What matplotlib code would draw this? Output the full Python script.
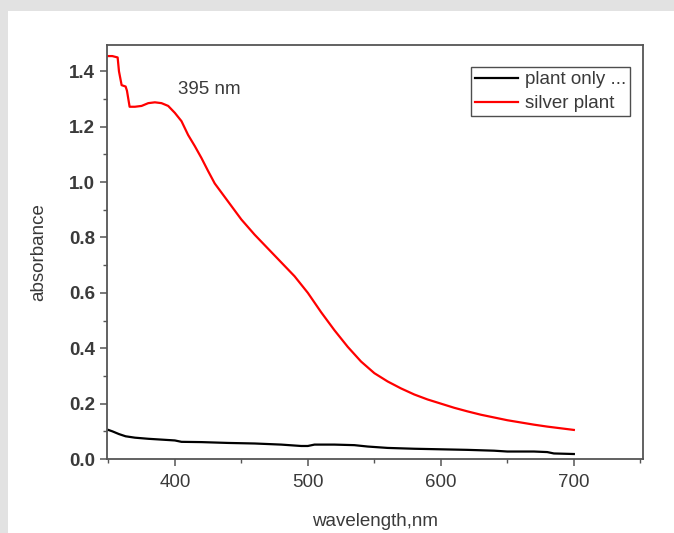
import matplotlib
matplotlib.use("Agg")
import matplotlib.pyplot as plt
from matplotlib.patches import Rectangle
from matplotlib.ticker import MultipleLocator

plant_wl = [350, 353, 358, 363, 370, 380, 390, 400, 405, 420, 440, 460, 480,
            495, 500, 505, 520, 535, 545, 560, 580, 600, 620, 640, 650, 670,
            680, 685, 700]
plant_abs = [0.105, 0.1, 0.09, 0.082, 0.077, 0.073, 0.07, 0.067, 0.062, 0.061,
             0.058, 0.056, 0.052, 0.047, 0.047, 0.052, 0.052, 0.05, 0.045,
             0.04, 0.037, 0.035, 0.033, 0.03, 0.027, 0.027, 0.025, 0.02, 0.018]

silver_wl = [350, 353, 357, 358, 360, 363, 364, 366, 370, 375, 380, 385, 390,
             395, 400, 405, 410, 415, 420, 425, 430, 440, 450, 460, 470, 480,
             490, 500, 510, 520, 530, 540, 550, 560, 570, 580, 590, 600, 610,
             620, 630, 640, 650, 660, 670, 680, 690, 700]
silver_abs = [1.455, 1.455, 1.45, 1.40, 1.35, 1.345, 1.33, 1.272, 1.272,
              1.275, 1.285, 1.288, 1.285, 1.275, 1.25, 1.22, 1.17, 1.13,
              1.087, 1.04, 0.995, 0.93, 0.865, 0.81, 0.76, 0.71, 0.66, 0.60,
              0.53, 0.465, 0.405, 0.352, 0.31, 0.28, 0.255, 0.233, 0.215,
              0.2, 0.185, 0.172, 0.16, 0.15, 0.14, 0.132, 0.124, 0.117, 0.111,
              0.105]

series_labels = ["plant only ...", "silver plant"]
peak_text = "395 nm"

plt.rcParams['font.family'] = ['Liberation Sans', 'DejaVu Sans']
txt = '#3a3a3a'
spine = '#555555'
fs = 13.5

fig = plt.figure(figsize=(6.74, 5.33), dpi=100)
fig.patch.set_facecolor('white')
# grey page border on top and left
fig.patches.append(Rectangle((0, 1 - 11 / 533), 1, 11 / 533, transform=fig.transFigure,
                             facecolor='#e2e2e2', edgecolor='none', zorder=0))
fig.patches.append(Rectangle((0, 0), 8 / 674, 1, transform=fig.transFigure,
                             facecolor='#e2e2e2', edgecolor='none', zorder=0))

ax = fig.add_axes([107 / 674, 74 / 533, 536 / 674, 414 / 533])
ax.plot(plant_wl, plant_abs, color='black', lw=1.6, label=series_labels[0])
ax.plot(silver_wl, silver_abs, color='#ff0000', lw=1.6, label=series_labels[1])

ax.set_xlim(349, 752)
ax.set_ylim(0, 1.495)
ax.xaxis.set_major_locator(MultipleLocator(100))
ax.xaxis.set_minor_locator(MultipleLocator(50))
ax.yaxis.set_major_locator(MultipleLocator(0.2))
ax.yaxis.set_minor_locator(MultipleLocator(0.1))
ax.yaxis.set_major_formatter(plt.FormatStrFormatter('%.1f'))

for s in ax.spines.values():
    s.set_color(spine)
    s.set_linewidth(1.3)
ax.tick_params(which='both', direction='out', colors=spine, labelcolor=txt,
               top=False, right=False)
ax.tick_params(which='major', length=5, width=1.1, labelsize=fs)
ax.tick_params(which='minor', length=3, width=1.0)
ax.tick_params(axis='x', which='major', pad=6)
for lab in ax.get_yticklabels():
    lab.set_fontweight('bold')

ax.set_xlabel('wavelength,nm', fontsize=fs, color=txt, labelpad=16)
ax.set_ylabel('absorbance', fontsize=fs, color=txt, labelpad=16)

ax.text(426, 1.335, peak_text, fontsize=fs, color=txt, ha='center', va='center')

leg = ax.legend(loc='upper left', bbox_to_anchor=(0.679, 0.947), borderaxespad=0,
                fancybox=False, frameon=True, fontsize=fs, borderpad=0.22,
                handlelength=2.3, handletextpad=0.35, labelspacing=0.36)
leg.get_frame().set_edgecolor('#222222')
leg.get_frame().set_linewidth(1.0)
for t in leg.get_texts():
    t.set_color(txt)

fig.savefig('out.png', dpi=100)
